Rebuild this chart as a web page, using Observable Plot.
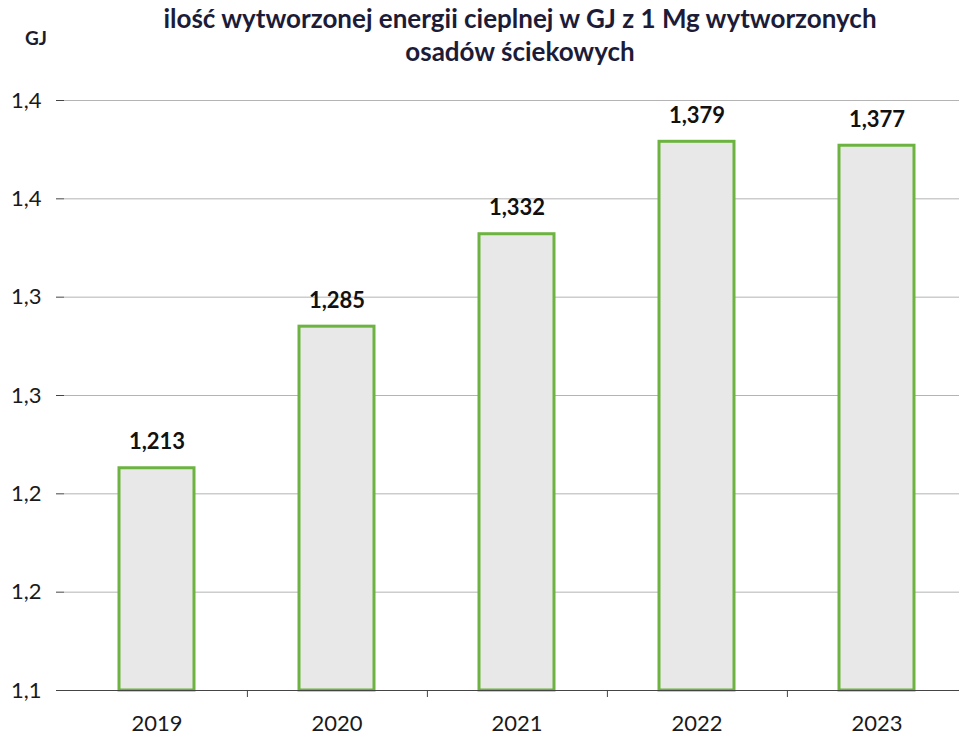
<!DOCTYPE html>
<html>
<head>
<meta charset="utf-8">
<script src="https://cdn.jsdelivr.net/npm/d3@7"></script>
<script src="https://cdn.jsdelivr.net/npm/@observablehq/plot@0.6"></script>
<style>
  html, body { margin: 0; padding: 0; background: #fff; overflow: hidden; }
  #wrap { position: relative; width: 959px; height: 735px; font-family: Lato, "Noto Sans", sans-serif; }
  #unit { position: absolute; left: 25px; top: 27px; font-size: 19px; line-height: 22px; font-weight: bold; color: #1c1c2c; }
  #title { position: absolute; left: 65px; width: 910px; top: 2px; text-align: center; font-size: 26px; font-weight: bold; color: #1c1c38; line-height: 33px; }
  #chart { position: absolute; left: 0; top: 0; }
</style>
</head>
<body>
<div id="wrap">
  <div id="chart"></div>
  <div id="unit">GJ</div>
  <div id="title">ilość wytworzonej energii cieplnej w GJ z 1 Mg wytworzonych<br>osadów ściekowych</div>
</div>
<script>
const years = ["2019", "2020", "2021", "2022", "2023"];
const values = [1.213, 1.285, 1.332, 1.379, 1.377];
const yTicks = [1.1, 1.15, 1.2, 1.25, 1.3, 1.35, 1.4];
const yTickLabels = ["1,1", "1,2", "1,2", "1,3", "1,3", "1,4", "1,4"];

const data = years.map((year, i) => ({year, value: values[i]}));
const fmt = v => v.toFixed(3).replace(".", ",");

const plot = Plot.plot({
  width: 959,
  height: 735,
  marginLeft: 64,
  marginRight: 0,
  marginTop: 100,
  marginBottom: 45,
  style: {fontFamily: "Lato, 'Noto Sans', sans-serif", background: "transparent"},
  x: {domain: years, range: [64, 968], paddingInner: 0.585, paddingOuter: 0.2925},
  y: {domain: [1.1, 1.4]},
  marks: [
    Plot.gridY(yTicks, {stroke: "#b4b4b4", strokeOpacity: 1, strokeWidth: 1}),
    Plot.barY(data, {x: "year", y1: 1.1, y2: "value", fill: "#e8e8e8", stroke: "#6cb33f", strokeWidth: 3}),
    Plot.ruleY([1.1], {stroke: "#444", strokeWidth: 1.2}),
    Plot.ruleX(years.slice(0, 4), {x: d => d, y1: 1.1, y2: 1.1, dx: 90.4, insetBottom: -7, stroke: "#444"}),
    Plot.axisY(yTicks, {tickFormat: (d, i) => yTickLabels[i], tickSize: 8, tickPadding: 15, fontSize: 22, line: true, stroke: "#444", fill: "#1a1a1a", label: null}),
    Plot.axisX({tickSize: 0, tickPadding: 25, fontSize: 22, fill: "#1a1a1a", label: null}),
    Plot.text(data, {x: "year", y: "value", text: d => fmt(d.value), dy: -26, fontSize: 22, fontWeight: "bold", fill: "#111"})
  ]
});
document.getElementById("chart").appendChild(plot);
</script>
</body>
</html>
